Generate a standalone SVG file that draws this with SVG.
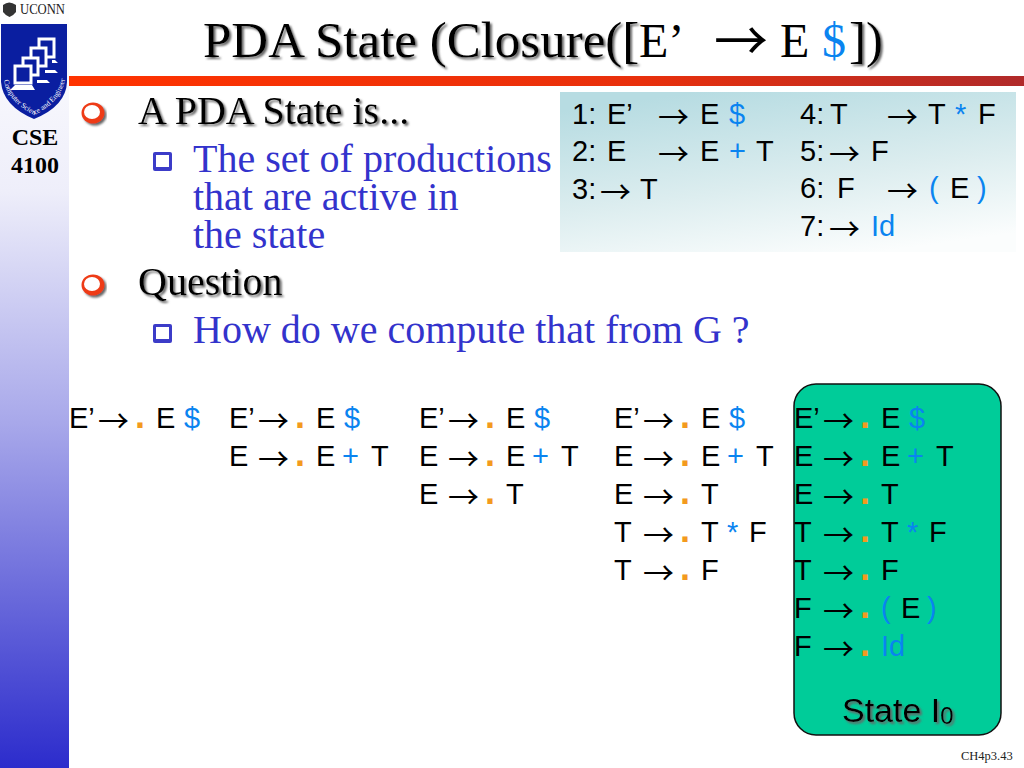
<svg xmlns="http://www.w3.org/2000/svg" width="1024" height="768" viewBox="0 0 1024 768">
<style>
.s{font-family:"Liberation Serif","Times New Roman",serif}
.a{font-family:"Liberation Sans",Arial,sans-serif;font-size:29px;fill:#000}
.r{font-family:"Noto Sans CJK JP","Noto Sans",sans-serif;font-size:31px}
.b{fill:#0a84f0}
.d{fill:#f39a1e;font-weight:bold;font-size:36px}
.h{font-size:40px;fill:#000;filter:url(#sh)}
.p{font-size:40px;fill:#3333cc}
.t{font-size:51px;fill:#000}
.m{fill:#0a1ea0;stroke:#fff;stroke-width:3}
.rb{fill:#ee3a14}
.w{fill:#fff}
.sq{fill:#3c3cc8}
</style>
<defs>
<linearGradient id="side" x1="0" y1="0" x2="0" y2="1"><stop offset="0" stop-color="#fff"/><stop offset=".25" stop-color="#eeeefa"/><stop offset=".55" stop-color="#a8a8ea"/><stop offset="1" stop-color="#2c2ccc"/></linearGradient>
<linearGradient id="bar" x1="0" y1="0" x2="1" y2="0"><stop offset="0" stop-color="#ff3300"/><stop offset=".6" stop-color="#e8300c"/><stop offset="1" stop-color="#b02a2a"/></linearGradient>
<linearGradient id="tbl" x1="0.3" y1="0" x2="0.7" y2="1"><stop offset="0" stop-color="#b7dce2"/><stop offset=".55" stop-color="#dcedef"/><stop offset="1" stop-color="#fbfdfd"/></linearGradient>
<filter id="sh" x="-10%" y="-20%" width="120%" height="150%"><feDropShadow dx="2" dy="2" stdDeviation="0.8" flood-color="#666"/></filter>
<path id="arc" d="M4 80 Q6 100 34 115 Q60 103 65 80"/>
</defs>

<rect width="1024" height="768" fill="#fff"/>
<rect id="sidebar" x="0" y="0" width="69" height="768" fill="url(#side)"/>
<rect id="titlebar" x="69" y="76" width="955" height="10" fill="url(#bar)"/>

<g id="logo">
<path d="M3 5Q9 0 16 5V12Q13 16 9.500 17Q6 16 3 12Z" fill="#333"/>
<text class="s" x="20" y="14" font-size="14.500" fill="#222" textLength="45" lengthAdjust="spacingAndGlyphs">UCONN</text>
<path d="M1 24H67V82Q66 106 34 119Q3 106 1 82Z" fill="#0a1ea0"/>
<rect class="m" x="39" y="39" width="15" height="18"/>
<rect class="m" x="31" y="48" width="15" height="18"/>
<rect class="m" x="23" y="58" width="15" height="17"/>
<rect class="m" x="15" y="66" width="16" height="17"/>
<path d="M10 90L15 85H32L35 90Z M37 80H47L50 83H37Z M45 70H55L58 73H45Z M52 60H55L58 63H52Z" fill="#fff"/>
<text class="s" font-size="7.500" fill="#fff"><textPath href="#arc">Computer Science and Engineering</textPath></text>
</g>

<g id="course" class="s" font-size="24" font-weight="bold" text-anchor="middle" fill="#000">
<text x="35" y="145">CSE</text>
<text x="35" y="173">4100</text>
</g>

<g id="title">
<text class="s t" x="203" y="57" style="filter:url(#sh)">PDA State (Closure([</text>
<text class="s" font-size="48" fill="#000" x="639" y="57">E’</text>
<text class="r" x="714" y="61" style="font-size:54px" fill="#000">→</text>
<text class="s" font-size="48" fill="#000" x="780" y="57">E</text>
<text class="s b" font-size="48" x="822" y="57">$</text>
<text class="s t" x="849" y="57" style="filter:url(#sh)">])</text>
</g>

<g id="bullets">
<g id="bullet1" filter="url(#sh)"><ellipse class="rb" cx="93" cy="113" rx="11.500" ry="10.500"/><ellipse class="w" cx="92" cy="112" rx="8" ry="7"/></g>
<g id="bullet2"><rect class="sq" x="153" y="152" width="19" height="19" rx="2"/><rect class="w" x="156" y="155" width="13" height="12"/></g>
<g id="bullet3" filter="url(#sh)"><ellipse class="rb" cx="93" cy="285" rx="11.500" ry="10.500"/><ellipse class="w" cx="92" cy="284" rx="8" ry="7"/></g>
<g id="bullet4"><rect class="sq" x="153" y="324" width="19" height="19" rx="2"/><rect class="w" x="156" y="327" width="13" height="12"/></g>
</g>

<g id="body" class="s">
<text class="h" x="138" y="124">A PDA State is...</text>
<text class="p" x="193" y="172">The set of productions</text>
<text class="p" x="193" y="210">that are active in</text>
<text class="p" x="193" y="248">the state</text>
<text class="h" x="138" y="295">Question</text>
<text class="p" x="193" y="343">How do we compute that from G ?</text>
</g>

<g id="grammar">
<rect x="560" y="92" width="456" height="160" fill="url(#tbl)"/>
<text class="a" y="124"><tspan x="572">1:</tspan><tspan x="607">E’</tspan><tspan class="r" dy="4" x="658">→</tspan><tspan dy="-4" x="700">E</tspan><tspan class="b" x="729">$</tspan></text>
<text class="a" y="161"><tspan x="572">2:</tspan><tspan x="607">E</tspan><tspan class="r" dy="4" x="658">→</tspan><tspan dy="-4" x="700">E</tspan><tspan class="b" x="729">+</tspan><tspan x="756">T</tspan></text>
<text class="a" y="199"><tspan x="572">3:</tspan><tspan class="r" dy="4" x="600">→</tspan><tspan dy="-4" x="640">T</tspan></text>
<text class="a" y="124"><tspan x="800">4:</tspan><tspan x="830">T</tspan><tspan class="r" dy="4" x="887">→</tspan><tspan dy="-4" x="928">T</tspan><tspan class="b" x="955">*</tspan><tspan x="978">F</tspan></text>
<text class="a" y="161"><tspan x="800">5:</tspan><tspan class="r" dy="4" x="829">→</tspan><tspan dy="-4" x="871">F</tspan></text>
<text class="a" y="198"><tspan x="800">6:</tspan><tspan x="837">F</tspan><tspan class="r" dy="4" x="887">→</tspan><tspan class="b" dy="-4" x="929">(</tspan><tspan x="950">E</tspan><tspan class="b" x="977">)</tspan></text>
<text class="a" y="236"><tspan x="800">7:</tspan><tspan class="r" dy="4" x="829">→</tspan><tspan class="b" dy="-4" x="871">Id</tspan></text>
</g>

<g id="closure1">
<text class="a" y="428"><tspan x="69">E’</tspan><tspan class="r" dy="4" x="98">→</tspan><tspan class="d" dy="-4" x="135">.</tspan><tspan x="156">E</tspan><tspan class="b" x="184">$</tspan></text>
</g>
<g id="closure2">
<text class="a" y="428"><tspan x="229">E’</tspan><tspan class="r" dy="4" x="258">→</tspan><tspan class="d" dy="-4" x="295">.</tspan><tspan x="316">E</tspan><tspan class="b" x="344">$</tspan></text>
<text class="a" y="466"><tspan x="229">E</tspan><tspan class="r" dy="4" x="258">→</tspan><tspan class="d" dy="-4" x="295">.</tspan><tspan x="316">E</tspan><tspan class="b" x="342">+</tspan><tspan x="371">T</tspan></text>
</g>
<g id="closure3">
<text class="a" y="428"><tspan x="419">E’</tspan><tspan class="r" dy="4" x="448">→</tspan><tspan class="d" dy="-4" x="485">.</tspan><tspan x="506">E</tspan><tspan class="b" x="534">$</tspan></text>
<text class="a" y="466"><tspan x="419">E</tspan><tspan class="r" dy="4" x="448">→</tspan><tspan class="d" dy="-4" x="485">.</tspan><tspan x="506">E</tspan><tspan class="b" x="532">+</tspan><tspan x="561">T</tspan></text>
<text class="a" y="504"><tspan x="419">E</tspan><tspan class="r" dy="4" x="448">→</tspan><tspan class="d" dy="-4" x="485">.</tspan><tspan x="506">T</tspan></text>
</g>
<g id="closure4">
<text class="a" y="428"><tspan x="614">E’</tspan><tspan class="r" dy="4" x="643">→</tspan><tspan class="d" dy="-4" x="680">.</tspan><tspan x="701">E</tspan><tspan class="b" x="729">$</tspan></text>
<text class="a" y="466"><tspan x="614">E</tspan><tspan class="r" dy="4" x="643">→</tspan><tspan class="d" dy="-4" x="680">.</tspan><tspan x="701">E</tspan><tspan class="b" x="727">+</tspan><tspan x="756">T</tspan></text>
<text class="a" y="504"><tspan x="614">E</tspan><tspan class="r" dy="4" x="643">→</tspan><tspan class="d" dy="-4" x="680">.</tspan><tspan x="701">T</tspan></text>
<text class="a" y="542"><tspan x="614">T</tspan><tspan class="r" dy="4" x="643">→</tspan><tspan class="d" dy="-4" x="680">.</tspan><tspan x="701">T</tspan><tspan class="b" x="727">*</tspan><tspan x="749">F</tspan></text>
<text class="a" y="580"><tspan x="614">T</tspan><tspan class="r" dy="4" x="643">→</tspan><tspan class="d" dy="-4" x="680">.</tspan><tspan x="701">F</tspan></text>
</g>
<g id="stateI0">
<rect x="794" y="384" width="207" height="351" rx="22" fill="#00cc99" stroke="#111" stroke-width="1.500"/>
<text class="a" y="428"><tspan x="794">E’</tspan><tspan class="r" dy="4" x="823">→</tspan><tspan class="d" dy="-4" x="860">.</tspan><tspan x="881">E</tspan><tspan class="b" x="909">$</tspan></text>
<text class="a" y="466"><tspan x="794">E</tspan><tspan class="r" dy="4" x="823">→</tspan><tspan class="d" dy="-4" x="860">.</tspan><tspan x="881">E</tspan><tspan class="b" x="907">+</tspan><tspan x="936">T</tspan></text>
<text class="a" y="504"><tspan x="794">E</tspan><tspan class="r" dy="4" x="823">→</tspan><tspan class="d" dy="-4" x="860">.</tspan><tspan x="881">T</tspan></text>
<text class="a" y="542"><tspan x="794">T</tspan><tspan class="r" dy="4" x="823">→</tspan><tspan class="d" dy="-4" x="860">.</tspan><tspan x="881">T</tspan><tspan class="b" x="907">*</tspan><tspan x="929">F</tspan></text>
<text class="a" y="580"><tspan x="794">T</tspan><tspan class="r" dy="4" x="823">→</tspan><tspan class="d" dy="-4" x="860">.</tspan><tspan x="881">F</tspan></text>
<text class="a" y="618"><tspan x="794">F</tspan><tspan class="r" dy="4" x="823">→</tspan><tspan class="d" dy="-4" x="860">.</tspan><tspan class="b" x="881">(</tspan><tspan x="901">E</tspan><tspan class="b" x="927">)</tspan></text>
<text class="a" y="656"><tspan x="794">F</tspan><tspan class="r" dy="4" x="823">→</tspan><tspan class="d" dy="-4" x="860">.</tspan><tspan class="b" x="881">Id</tspan></text>
<text class="a" x="842" y="722" style="font-size:34px;filter:url(#sh)">State I<tspan font-size="24" dy="2">0</tspan></text>
</g>
<text id="pagenum" class="s" x="961" y="760" font-size="12.500" fill="#222">CH4p3.43</text>
</svg>
